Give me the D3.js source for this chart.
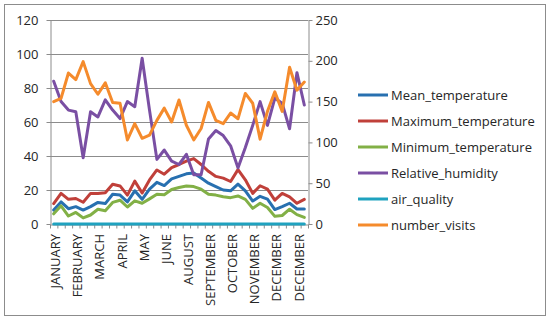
<!DOCTYPE html>
<html>
<head>
<meta charset="utf-8">
<script src="https://cdn.jsdelivr.net/npm/d3@7"></script>
<style>
body { margin: 0; background: #fff; }
text { font-family: "Open Sans", sans-serif; fill: #262626; }
</style>
</head>
<body>
<div id="chart"></div>
<script>
var width = 550,
    height = 321;

// one entry per observation, labels only shown every third
var categories = ["JANUARY", "JANUARY", "JANUARY", "FEBRUARY", "FEBRUARY", "FEBRUARY",
    "MARCH", "MARCH", "MARCH", "APRIL", "APRIL", "APRIL", "MAY", "MAY", "MAY",
    "JUNE", "JUNE", "JUNE", "AUGUST", "AUGUST", "AUGUST", "SEPTEMBER", "SEPTEMBER", "SEPTEMBER",
    "OCTOBER", "OCTOBER", "OCTOBER", "NOVEMBER", "NOVEMBER", "NOVEMBER",
    "DECEMBER", "DECEMBER", "DECEMBER", "DECEMBER", "DECEMBER"];

var meanTemp = [8.2, 13, 9, 10.2, 8.2, 10.2, 12.7, 12, 17.5, 17,
    13, 19.5, 14.5, 20.5, 24.5, 22.6, 26.5, 28, 29.5, 30,
    27, 24, 22, 20, 19.5, 23.5, 19.5, 13.5, 16.3, 14.6,
    8.5, 10.2, 12.2, 8.8, 8.8];

var maxTemp = [12, 18, 14.5, 15, 12.8, 18, 18, 18.4, 23.4, 22.4,
    17, 25.2, 18.2, 25.9, 31.8, 29.3, 33.2, 35, 37, 38.5,
    35, 31, 28, 27, 25, 32, 26, 18, 22.5, 20.5,
    14, 18, 16, 12.2, 14.5];

var minTemp = [6, 10.7, 4.7, 6.8, 3.6, 5.3, 8.7, 7.8, 12.7, 14,
    10, 13.6, 12.2, 14.8, 17.5, 17.2, 20.3, 21.5, 22.3, 22,
    20.5, 17.5, 17, 16, 15.5, 16.5, 14.5, 9.2, 12.2, 9.7,
    4.5, 5, 8.7, 5.5, 3.9];

var humidity = [84, 72, 67, 66, 39, 66, 63, 73, 67, 62,
    72, 69, 97.5, 67, 38, 43.5, 37, 35, 41, 29,
    29, 50, 55, 52, 46, 33, 45, 58, 72, 58,
    74, 71, 56, 89, 70];

var airQuality = [0, 0, 0, 0, 0, 0, 0, 0, 0, 0,
    0, 0, 0, 0, 0, 0, 0, 0, 0, 0,
    0, 0, 0, 0, 0, 0, 0, 0, 0, 0,
    0, 0, 0, 0, 0];

var visits = [150, 154, 185, 177, 199, 172, 159, 173, 149, 148,
    103, 123, 105, 109, 127, 142, 125, 152, 121, 103,
    117, 149, 127, 123, 136, 129, 160, 148, 104, 138,
    162, 138, 192, 164, 174];

var leftTicks = [0, 20, 40, 60, 80, 100, 120],
    rightTicks = [0, 50, 100, 150, 200, 250];

var series = [
    {name: "Mean_temperature", values: meanTemp, color: "#2870b0", axis: "left"},
    {name: "Maximum_temperature", values: maxTemp, color: "#c0403a", axis: "left"},
    {name: "Minimum_temperature", values: minTemp, color: "#82b046", axis: "left"},
    {name: "Relative_humidity", values: humidity, color: "#7a4fa3", axis: "left"},
    {name: "air_quality", values: airQuality, color: "#1fa2bf", axis: "left"},
    {name: "number_visits", values: visits, color: "#f58b2c", axis: "right"}
];

var svg = d3.select("#chart")
    .append("svg")
    .attr("width", width)
    .attr("height", height);

svg.append("rect")
    .attr("x", 4.5).attr("y", 4.5)
    .attr("width", 541).attr("height", 311)
    .attr("fill", "#fff")
    .attr("stroke", "#8c8c8c");

var x = d3.scaleLinear().domain([0, categories.length]).range([50, 308]);
var yLeft = d3.scaleLinear().domain([0, 120]).range([224, 20]);
var yRight = d3.scaleLinear().domain([0, 250]).range([224, 20]);

// gridlines
svg.selectAll(".grid")
    .data(leftTicks.slice(1))
    .enter().append("line")
    .attr("x1", 50).attr("x2", 308)
    .attr("y1", function(d) { return Math.round(yLeft(d)) + 0.5; })
    .attr("y2", function(d) { return Math.round(yLeft(d)) + 0.5; })
    .attr("stroke", "#8c8c8c");

var leftAxis = svg.append("g")
    .attr("transform", "translate(50.5,0)")
    .call(d3.axisLeft(yLeft).tickValues(leftTicks).tickSize(4).tickSizeOuter(0).tickPadding(8));

var rightAxis = svg.append("g")
    .attr("transform", "translate(308.5,0)")
    .call(d3.axisRight(yRight).tickValues(rightTicks).tickSize(4).tickSizeOuter(0).tickPadding(3));

var bottomAxis = svg.append("g")
    .attr("transform", "translate(0,224.5)")
    .call(d3.axisBottom(x).tickValues(d3.range(categories.length + 1)).tickSize(4).tickSizeOuter(0).tickFormat(""));

svg.selectAll(".domain, .tick line").attr("stroke", "#8c8c8c");
svg.selectAll(".tick text").style("font-size", "13px").attr("fill", "#262626");

// category labels, every third one
svg.selectAll(".xlabel")
    .data(d3.range(0, categories.length, 3))
    .enter().append("text")
    .attr("class", "xlabel")
    .attr("transform", function(d) { return "translate(" + (x(d + 0.5) + 2) + ",234) rotate(-90)"; })
    .attr("text-anchor", "end")
    .attr("dy", "0.35em")
    .style("font-size", "13px")
    .text(function(d) { return categories[d]; });

var lineLeft = d3.line()
    .x(function(d, i) { return x(i + 0.5); })
    .y(function(d) { return yLeft(d); });

var lineRight = d3.line()
    .x(function(d, i) { return x(i + 0.5); })
    .y(function(d) { return yRight(d); });

svg.selectAll(".series")
    .data(series)
    .enter().append("path")
    .attr("d", function(d) { return d.axis == "left" ? lineLeft(d.values) : lineRight(d.values); })
    .attr("fill", "none")
    .attr("stroke", function(d) { return d.color; })
    .attr("stroke-width", 3)
    .attr("stroke-linejoin", "round")
    .attr("stroke-linecap", "round");

// legend
var legend = svg.selectAll(".legend")
    .data(series)
    .enter().append("g")
    .attr("transform", function(d, i) { return "translate(358," + (95 + i * 26) + ")"; });

legend.append("line")
    .attr("x1", 0).attr("x2", 30)
    .attr("stroke", function(d) { return d.color; })
    .attr("stroke-width", 3);

legend.append("text")
    .attr("x", 33)
    .attr("dy", "0.35em")
    .style("font-size", "13px")
    .text(function(d) { return d.name; });
</script>
</body>
</html>
